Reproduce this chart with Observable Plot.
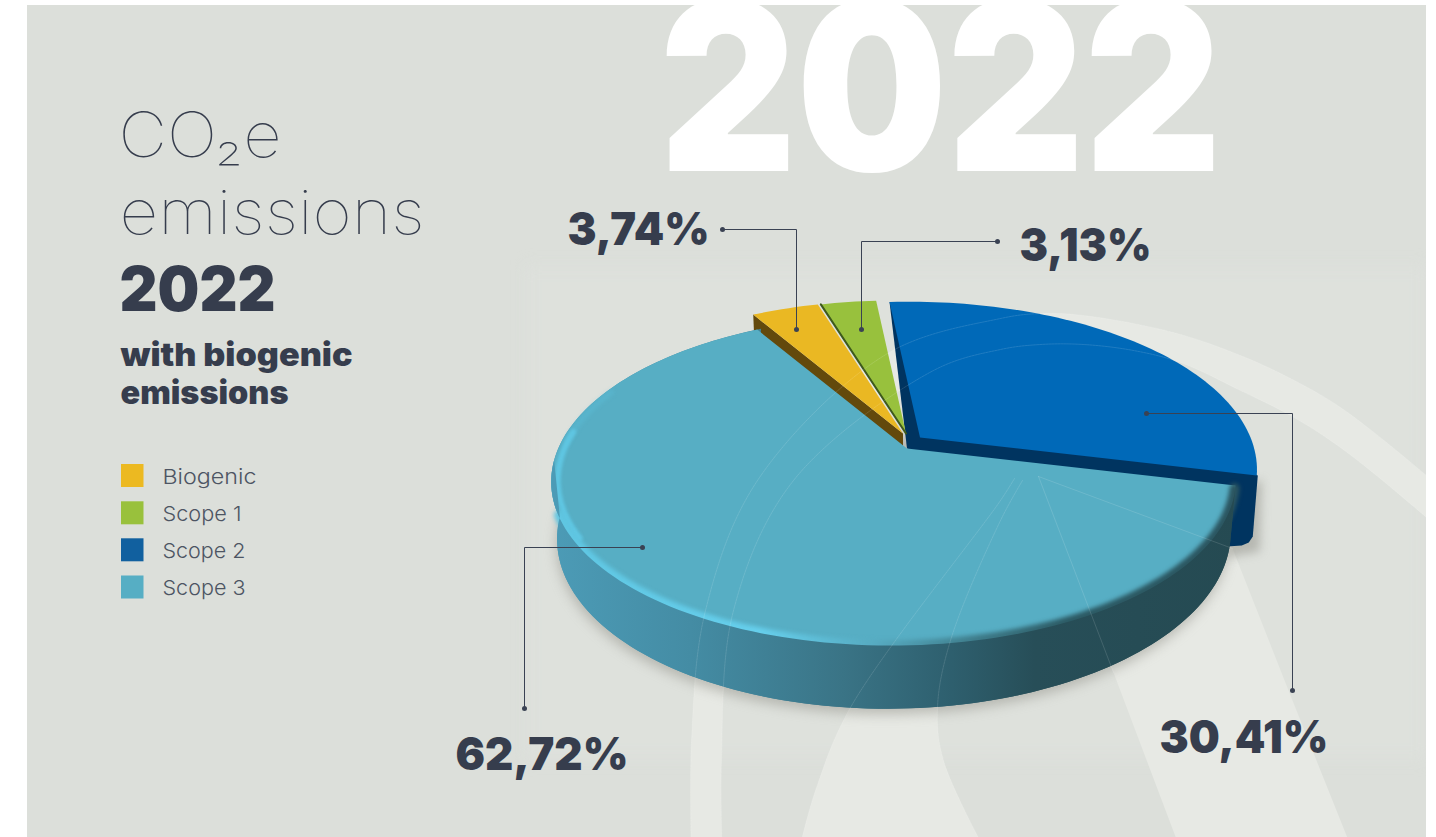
<!DOCTYPE html>
<html><head><meta charset="utf-8">
<script src="https://cdn.jsdelivr.net/npm/d3@7"></script>
<script src="https://cdn.jsdelivr.net/npm/@observablehq/plot@0.6"></script>
<style>html,body{margin:0;padding:0;background:#fff;overflow:hidden}svg{display:block}</style>
</head><body><div id="chart"></div>
<script>
// ---- data
const categories = ["Biogenic", "Scope 1", "Scope 2", "Scope 3"];
const shares = [3.74, 3.13, 30.41, 62.72];
const shareLabels = ["3,74%", "3,13%", "30,41%", "62,72%"];
const topColors = ["#eab823", "#98c13d", "#0069b8", "#57aec4"];
const legendColors = ["#ecb921", "#99c13c", "#11609f", "#56aec4"];
const wallColors = ["#63490c", "#3e5a1c", "#003460", "url(#wall3)"];

// ---- layout of the perspective pie (a projected circle)
const P = {x0: 906.5, y0: 448, f: 1730, g: 819, h: 283, D: 5.16, w: 0.2, t: 0.08};
const firstAngle = 103.4;
const drawOrder = [3, 0, 1, 2];          // clockwise from firstAngle
const offsets = {0: [-4, -15], 1: [-1, -15], 2: [13, -11], 3: [0, 0]};
const radii = {0: 1, 1: 1, 2: 1.025, 3: 1};
function project(deg, r, z, off = [0, 0]) {
  const a = deg * Math.PI / 180, u = r * Math.sin(a), v = r * Math.cos(a);
  const den = P.D + v + P.w * u + P.t * z;
  return {x: P.x0 + P.f * u / den + off[0], y: P.y0 + (-P.g * v + P.h * z) / den + off[1]};
}
function arc(a0, a1, z, off, r = 1) {
  const n = Math.max(2, Math.ceil(Math.abs(a1 - a0) / 1.5)), out = [];
  for (let i = 0; i <= n; ++i) out.push(project(a0 + (a1 - a0) * i / n, r, z, off));
  return out;
}
const spans = {};
{ let a = firstAngle;
  for (const i of drawOrder) { const d = shares[i] / 100 * 360; spans[i] = [a, a + d]; a += d; } }
const slice = (i, z = 0) => {
  const off = offsets[i];
  return [project(0, 0, z, off), ...arc(spans[i][0], spans[i][1], z, off, radii[i])];
};
const poly = (pts, fill, extra = {}) => Plot.line(pts, {x: "x", y: "y", fill, stroke: "none", curve: "linear", ...extra});

// walls
const s2 = spans[2], o2 = offsets[2], A3 = project(0, 0, 0, [0, 0]);
const e2 = project(s2[1], radii[2], 0, o2);
const shift = (p, dx, dy) => ({x: p.x + dx, y: p.y + dy});
const wall2 = [project(s2[0], radii[2], 0, o2), A3, shift(e2, -30, 71), shift(e2, -15, 70), shift(e2, -8, 67), shift(e2, -4, 61), shift(e2, 1, 0)];
const wallB = [project(spans[0][0], 1, 0, offsets[0]), project(0, 0, 0, offsets[0]),
               project(0, 0, 0.55, offsets[0]), project(spans[0][0], 1, 0.4, offsets[0])];
const wall3 = [...arc(spans[3][0], 330, 0), ...arc(spans[3][1], spans[3][0], 1)];
const wall3Front = [...arc(spans[3][0], 266, 0), ...arc(266, spans[3][0], 1)];
const rim = arc(spans[3][0] + 1, 248, 0, [0, 0], 0.998);
const rimInset = arc(240, 276, 0, [0, 0], 0.983);
const rimFade = arc(272, 292, 0, [0, 0], 0.985);
const scope1Edge = [project(spans[1][0], 1, 0, offsets[1]), project(0, 0, 0, offsets[1])];

// ---- decorative background shapes
const outerBand = [[691,860],[691,740],[705,610],[757,480],[887,353],[1000,318],[1040,313],[1083,315],[1173,332],[1240,355],[1290,378],[1340,407],[1426,475],[1460,505]];
const innerBand = [[722,860],[721,760],[733,610],[793,480],[933,370],[1000,349],[1040,344],[1083,344],[1133,350],[1180,362],[1240,390],[1290,415],[1340,447],[1426,517],[1460,548]];
const bendLeft  = [[796,860],[815,790],[850,707],[1000,500],[1014,478]];
const bendRight = [[1022,480],[1000,520],[950,640],[937,707],[943,760],[990,860]];
const wedgeLeft  = [[1038,476],[1113,672],[1184,860]];
const wedgeRight = [[1038,476],[1232,548],[1290,695],[1356,860]];
const xy = a => a.map(([x, y]) => ({x, y}));
const bandShape = [...xy(outerBand), ...xy(innerBand).reverse()];
const bendShape = [...xy(bendLeft), ...xy(bendRight)];
const wedgeShape = [...xy(wedgeLeft), ...xy(wedgeRight).reverse()];

// ---- text & leader layout
const FONT = "Inter, 'Noto Sans', sans-serif";
const INK = "#363d4d";
const fit = (width) => (index, scales, values, dims, ctx, next) => {
  const g = next(index, scales, values, dims, ctx);
  g.querySelectorAll("text").forEach(t => { t.setAttribute("textLength", width); t.setAttribute("lengthAdjust", "spacingAndGlyphs"); });
  return g;
};
const T = (s, x, y, size, weight, fill, width) => Plot.text([s], {
  x: () => x, y: () => y, text: d => d, fontSize: size, fontWeight: weight, fontFamily: FONT, fill,
  textAnchor: "start", lineAnchor: "bottom", render: width ? fit(width) : undefined
});
const labelPos = [[567, 244, 142], [1019, 260, 132], [1159, 752, 169], [455, 769, 173]];
const leaders = [
  [[722,229],[796,229],[796,329]],
  [[997,241],[861,241],[861,329]],
  [[1146,413],[1292,413],[1292,690]],
  [[642,547],[524,547],[524,708]]
];
const leaderEnds = leaders.flatMap(l => [{x: l[0][0], y: l[0][1]}, {x: l[2][0], y: l[2][1]}]);
const legendTop = [464, 501.3, 538.3, 575.5];
const legendWidths = [94, 79, 83, 83];
const legendRows = categories.map((name, i) => ({name, y: legendTop[i]}));

const defs = () => {
  const s = d3.create("svg:defs");
  const grad = (id, stops) => {
    const g = s.append("linearGradient").attr("id", id).attr("gradientUnits", "userSpaceOnUse")
      .attr("x1", 553).attr("x2", 1240).attr("y1", 0).attr("y2", 0);
    stops.forEach(([o, c]) => g.append("stop").attr("offset", o).attr("stop-color", c));
  };
  grad("wall3", [[0,"#4c9bb6"],[0.2,"#448ca4"],[0.42,"#3a7486"],[0.58,"#2e5f6e"],[0.7,"#274e58"],[1,"#254a52"]]);
  grad("rim3", [[0,"#5fc6e2"],[0.3,"#66cfec"],[0.47,"#56aac0"],[0.62,"#3d7a88"],[0.75,"#2c5a64"],[1,"#2b5560"]]);
  return s.node();
};

const plot = Plot.plot({
  width: 1436, height: 837, margin: 0,
  x: {domain: [0, 1436], range: [0, 1436], axis: null},
  y: {domain: [0, 837], range: [0, 837], axis: null},
  color: {domain: categories, range: legendColors},
  style: {background: "#ffffff"},
  marks: [
    defs,
    Plot.rect([0], {x1: () => 27, x2: () => 1426, y1: () => 5, y2: () => 837, fill: "#dcdfda"}),
    Plot.rect([0], {x1: () => 525, x2: () => 1426, y1: () => 265, y2: () => 760, fill: "#e4e7e2", fillOpacity: 0.25, imageFilter: "blur(8px)"}),
    poly(bandShape, "#e7e9e4", {curve: "catmull-rom"}),
    poly(bendShape, "#e7e9e4", {curve: "catmull-rom"}),
    poly(wedgeShape, "#e7e9e4"),
    Plot.rect([0], {x1: () => 1426, x2: () => 1436, y1: () => 0, y2: () => 837, fill: "#ffffff"}),
    // big year
    T("2022", 659, 170, 234, 900, "#ffffff", 562),
    // pie shadow
    poly(arc(spans[3][0], spans[3][0] + 225, 1.03, [-1, 4]), "#8f8f88", {fillOpacity: 0.5, imageFilter: "blur(6px)"}),
    poly([shift(e2, 5, 4), shift(e2, 3, 76), shift(e2, -30, 82), shift(e2, -30, 20)], "#8f8f88", {fillOpacity: 0.5, imageFilter: "blur(5px)"}),
    // slices, back to front
    poly(wall2, wallColors[2]),
    poly(slice(2), topColors[2]),
    poly(slice(1), topColors[1]),
    poly(wallB, wallColors[0]),
    poly(slice(0), topColors[0]),
    Plot.line(scope1Edge, {x: "x", y: "y", stroke: wallColors[1], strokeWidth: 2}),
    poly(wall3, wallColors[3]),
    poly(slice(3), topColors[3]),
    Plot.line(rimFade, {x: "x", y: "y", stroke: "#5fc6e2", strokeOpacity: 0.35, strokeWidth: 5, imageFilter: "blur(2px)"}),
    Plot.line(rimInset, {x: "x", y: "y", stroke: "#5fc6e2", strokeWidth: 6, imageFilter: "blur(1.8px)"}),
    Plot.line(rim, {x: "x", y: "y", stroke: "url(#rim3)", strokeWidth: 10, imageFilter: "blur(2px)"}),
    poly(wall3Front, wallColors[3]),
    // faint contour lines printed over the pie
    ...[outerBand, innerBand, bendLeft, bendRight].map(a =>
      Plot.line(xy(a), {x: "x", y: "y", curve: "catmull-rom", stroke: "#ffffff", strokeOpacity: 0.22, strokeWidth: 0.6, strokeDasharray: "2 1"})),
    Plot.line(xy(wedgeLeft.slice(0, 2)), {x: "x", y: "y", stroke: "#ffffff", strokeOpacity: 0.22, strokeWidth: 0.6}),
    Plot.line(xy(wedgeRight.slice(0, 2)), {x: "x", y: "y", stroke: "#ffffff", strokeOpacity: 0.22, strokeWidth: 0.6}),
    // leaders
    ...leaders.map(l => Plot.line(xy(l), {x: "x", y: "y", stroke: "#3a4253", strokeWidth: 1, curve: "linear"})),
    Plot.dot(leaderEnds, {x: "x", y: "y", r: 2.5, fill: "#3a4253", stroke: "none"}),
    // share labels
    ...shareLabels.map((s, i) => T(s, labelPos[i][0], labelPos[i][1], 46, 900, INK, labelPos[i][2])),
    // heading
    T("CO₂e", 118, 156, 62, 100, INK, 163),
    T("emissions", 119, 233, 61, 100, INK, 305),
    T("2022", 119, 310, 62, 900, INK, 156),
    T("with biogenic", 120, 365, 32, 900, INK, 232),
    T("emissions", 120, 403, 32, 900, INK, 168),
    // legend
    Plot.rect(legendRows, {x1: () => 121, x2: () => 143.5, y1: "y", y2: d => d.y + 23, fill: "name"}),
    ...legendRows.map((d, i) => T(d.name, 162, d.y + 19, 20.5, 300, "#4d5563", legendWidths[i]))
  ]
});
document.getElementById("chart").append(plot);
</script></body></html>
